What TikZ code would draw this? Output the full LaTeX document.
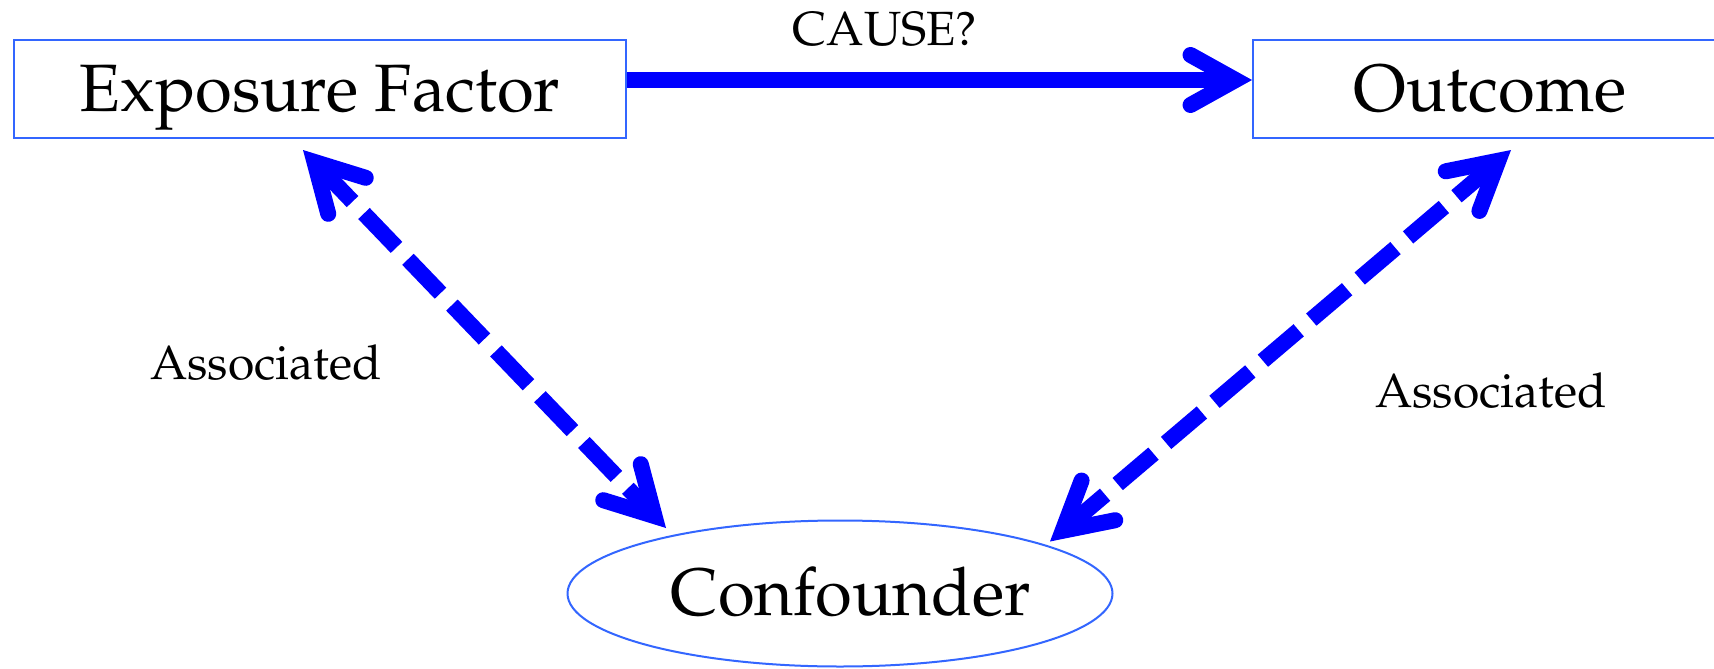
\documentclass[tikz,border=0pt]{standalone}
\usepackage[T1]{fontenc}
\usepackage{mathpazo}
\usetikzlibrary{arrows.meta,shapes.geometric}
\definecolor{boxblue}{RGB}{51,102,255}
\definecolor{arrblue}{RGB}{0,0,255}
\tikzset{
  boxnode/.style={draw=boxblue,line width=2pt,inner sep=0pt,minimum height=98pt,
    text height=47pt,text depth=1.6pt,font=\fontsize{67}{80}\selectfont},
  ellnode/.style={draw=boxblue,line width=2pt,ellipse,inner sep=0pt,minimum width=545pt,
    minimum height=146pt,text height=47pt,text depth=4pt,font=\fontsize{67}{80}\selectfont},
  lbl/.style={anchor=base,inner sep=0pt,font=\fontsize{48}{58}\selectfont},
  causearrow/.style={draw=arrblue,line width=16pt,
    -{Straight Barb[length=45pt,width=50pt,line cap=round,line join=miter]}},
  assocarrow/.style={draw=arrblue,line width=16pt,dash pattern=on 47pt off 16.5pt,
    {Straight Barb[length=47pt,width=52pt,line cap=round,line join=miter]}-{Straight Barb[length=47pt,width=52pt,line cap=round,line join=miter]}}
}
\begin{document}
\begin{tikzpicture}[x=1pt,y=-1pt]
\useasboundingbox (0,0) rectangle (1714,669);
\fill[white] (0,0) rectangle (1714,669);
\node[boxnode,minimum width=612pt] (exp) at (320,89) {Exposure Factor};
\node[boxnode,minimum width=474pt] (out) at (1490,89) {Outcome};
\node[ellnode] (conf) at (840,593.5) {\hspace*{22pt}Confounder};
\node[lbl] (cause) at (885,46) {CAUSE?};
\node[lbl] (assocL) at (266,379) {Associated};
\node[lbl] (assocR) at (1491,407) {Associated};
\coordinate (a1) at (303,150);
\coordinate (a2) at (666,528);
\coordinate (b1) at (1511,150);
\coordinate (b2) at (1050,541.5);
\draw[causearrow] ([yshift=9pt]exp.east) -- ([yshift=9pt]out.west);
\draw[assocarrow] (a1) -- (a2);
\draw[assocarrow] (b1) -- (b2);
\end{tikzpicture}
\end{document}
